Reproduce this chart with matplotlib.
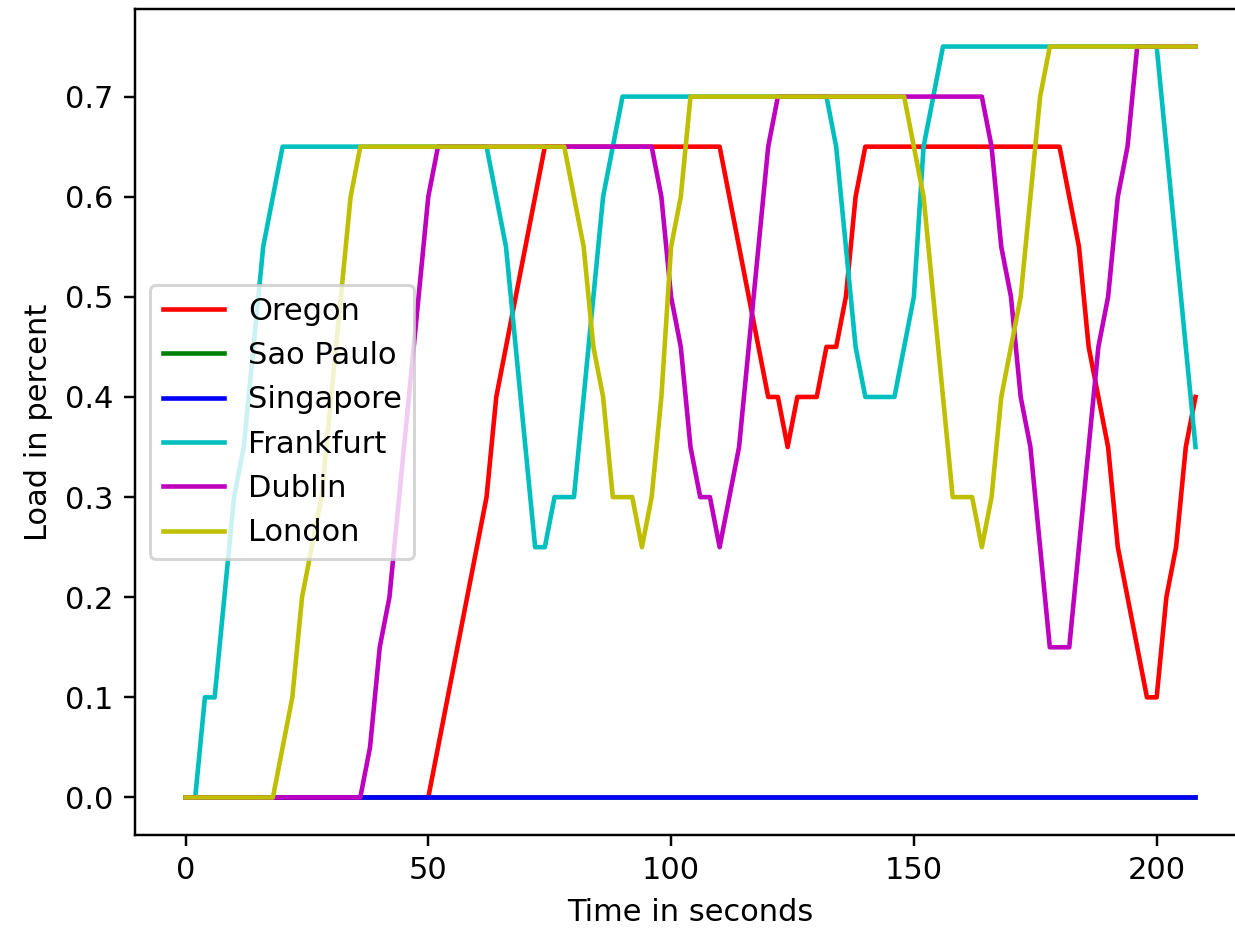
import matplotlib
matplotlib.use("Agg")
import matplotlib.pyplot as plt

time = list(range(0, 210, 2))  # 0, 2, ..., 208 seconds

oregon = [
    0, 0, 0, 0, 0, 0, 0, 0, 0, 0,
    0, 0, 0, 0, 0, 0, 0, 0, 0, 0,
    0, 0, 0, 0, 0, 0, 0.05, 0.1, 0.15, 0.2,
    0.25, 0.3, 0.4, 0.45, 0.5, 0.55, 0.6, 0.65, 0.65, 0.65,
    0.65, 0.65, 0.65, 0.65, 0.65, 0.65, 0.65, 0.65, 0.65, 0.65,
    0.65, 0.65, 0.65, 0.65, 0.65, 0.65, 0.6, 0.55, 0.5, 0.45,
    0.4, 0.4, 0.35, 0.4, 0.4, 0.4, 0.45, 0.45, 0.5, 0.6,
    0.65, 0.65, 0.65, 0.65, 0.65, 0.65, 0.65, 0.65, 0.65, 0.65,
    0.65, 0.65, 0.65, 0.65, 0.65, 0.65, 0.65, 0.65, 0.65, 0.65,
    0.65, 0.6, 0.55, 0.45, 0.4, 0.35, 0.25, 0.2, 0.15, 0.1,
    0.1, 0.2, 0.25, 0.35, 0.4,
]
sao_paulo = [
    0, 0, 0, 0, 0, 0, 0, 0, 0, 0,
    0, 0, 0, 0, 0, 0, 0, 0, 0, 0,
    0, 0, 0, 0, 0, 0, 0, 0, 0, 0,
    0, 0, 0, 0, 0, 0, 0, 0, 0, 0,
    0, 0, 0, 0, 0, 0, 0, 0, 0, 0,
    0, 0, 0, 0, 0, 0, 0, 0, 0, 0,
    0, 0, 0, 0, 0, 0, 0, 0, 0, 0,
    0, 0, 0, 0, 0, 0, 0, 0, 0, 0,
    0, 0, 0, 0, 0, 0, 0, 0, 0, 0,
    0, 0, 0, 0, 0, 0, 0, 0, 0, 0,
    0, 0, 0, 0, 0,
]
singapore = [
    0, 0, 0, 0, 0, 0, 0, 0, 0, 0,
    0, 0, 0, 0, 0, 0, 0, 0, 0, 0,
    0, 0, 0, 0, 0, 0, 0, 0, 0, 0,
    0, 0, 0, 0, 0, 0, 0, 0, 0, 0,
    0, 0, 0, 0, 0, 0, 0, 0, 0, 0,
    0, 0, 0, 0, 0, 0, 0, 0, 0, 0,
    0, 0, 0, 0, 0, 0, 0, 0, 0, 0,
    0, 0, 0, 0, 0, 0, 0, 0, 0, 0,
    0, 0, 0, 0, 0, 0, 0, 0, 0, 0,
    0, 0, 0, 0, 0, 0, 0, 0, 0, 0,
    0, 0, 0, 0, 0,
]
frankfurt = [
    0, 0, 0.1, 0.1, 0.2, 0.3, 0.35, 0.45, 0.55, 0.6,
    0.65, 0.65, 0.65, 0.65, 0.65, 0.65, 0.65, 0.65, 0.65, 0.65,
    0.65, 0.65, 0.65, 0.65, 0.65, 0.65, 0.65, 0.65, 0.65, 0.65,
    0.65, 0.65, 0.6, 0.55, 0.45, 0.35, 0.25, 0.25, 0.3, 0.3,
    0.3, 0.4, 0.5, 0.6, 0.65, 0.7, 0.7, 0.7, 0.7, 0.7,
    0.7, 0.7, 0.7, 0.7, 0.7, 0.7, 0.7, 0.7, 0.7, 0.7,
    0.7, 0.7, 0.7, 0.7, 0.7, 0.7, 0.7, 0.65, 0.55, 0.45,
    0.4, 0.4, 0.4, 0.4, 0.45, 0.5, 0.65, 0.7, 0.75, 0.75,
    0.75, 0.75, 0.75, 0.75, 0.75, 0.75, 0.75, 0.75, 0.75, 0.75,
    0.75, 0.75, 0.75, 0.75, 0.75, 0.75, 0.75, 0.75, 0.75, 0.75,
    0.75, 0.65, 0.55, 0.45, 0.35,
]
dublin = [
    0, 0, 0, 0, 0, 0, 0, 0, 0, 0,
    0, 0, 0, 0, 0, 0, 0, 0, 0, 0.05,
    0.15, 0.2, 0.3, 0.4, 0.5, 0.6, 0.65, 0.65, 0.65, 0.65,
    0.65, 0.65, 0.65, 0.65, 0.65, 0.65, 0.65, 0.65, 0.65, 0.65,
    0.65, 0.65, 0.65, 0.65, 0.65, 0.65, 0.65, 0.65, 0.65, 0.6,
    0.5, 0.45, 0.35, 0.3, 0.3, 0.25, 0.3, 0.35, 0.45, 0.55,
    0.65, 0.7, 0.7, 0.7, 0.7, 0.7, 0.7, 0.7, 0.7, 0.7,
    0.7, 0.7, 0.7, 0.7, 0.7, 0.7, 0.7, 0.7, 0.7, 0.7,
    0.7, 0.7, 0.7, 0.65, 0.55, 0.5, 0.4, 0.35, 0.25, 0.15,
    0.15, 0.15, 0.25, 0.35, 0.45, 0.5, 0.6, 0.65, 0.75, 0.75,
    0.75, 0.75, 0.75, 0.75, 0.75,
]
london = [
    0, 0, 0, 0, 0, 0, 0, 0, 0, 0,
    0.05, 0.1, 0.2, 0.25, 0.3, 0.4, 0.5, 0.6, 0.65, 0.65,
    0.65, 0.65, 0.65, 0.65, 0.65, 0.65, 0.65, 0.65, 0.65, 0.65,
    0.65, 0.65, 0.65, 0.65, 0.65, 0.65, 0.65, 0.65, 0.65, 0.65,
    0.6, 0.55, 0.45, 0.4, 0.3, 0.3, 0.3, 0.25, 0.3, 0.4,
    0.55, 0.6, 0.7, 0.7, 0.7, 0.7, 0.7, 0.7, 0.7, 0.7,
    0.7, 0.7, 0.7, 0.7, 0.7, 0.7, 0.7, 0.7, 0.7, 0.7,
    0.7, 0.7, 0.7, 0.7, 0.7, 0.65, 0.6, 0.5, 0.4, 0.3,
    0.3, 0.3, 0.25, 0.3, 0.4, 0.45, 0.5, 0.6, 0.7, 0.75,
    0.75, 0.75, 0.75, 0.75, 0.75, 0.75, 0.75, 0.75, 0.75, 0.75,
    0.75, 0.75, 0.75, 0.75, 0.75,
]

names = ["Oregon", "Sao Paulo", "Singapore", "Frankfurt", "Dublin", "London"]
values = [oregon, sao_paulo, singapore, frankfurt, dublin, london]
colors = ["r", "g", "b", "c", "m", "y"]

W, H, DPI = 1235, 929, 220
fig = plt.figure(figsize=(W / DPI, H / DPI), dpi=DPI)
ax = fig.add_axes([135 / W, (H - 835) / H, 1111 / W, 826 / H])
for name, vals, col in zip(names, values, colors):
    ax.plot(time, vals, col, label=name)
ax.set_xlabel("Time in seconds")
ax.set_ylabel("Load in percent")
ax.legend(loc="center left")
fig.savefig("out.png", dpi=DPI)
